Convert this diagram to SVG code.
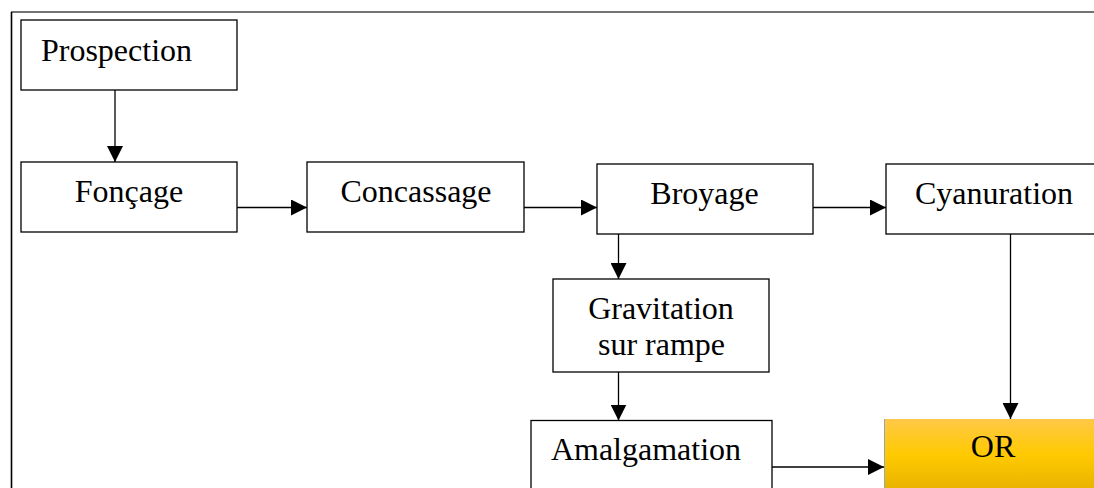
<svg xmlns="http://www.w3.org/2000/svg" width="1094" height="488" viewBox="0 0 1094 488">
<style>
.box{fill:#fff;stroke:#000;stroke-width:1.3}
.lbl{font-family:"Liberation Serif","Times New Roman",serif;font-size:32px;fill:#000;text-anchor:middle}
.con{stroke:#000;stroke-width:1.3;fill:none;marker-end:url(#ah)}
</style>
<defs>
<marker id="ah" viewBox="0 0 16 16" refX="16" refY="8" markerWidth="16" markerHeight="16" markerUnits="userSpaceOnUse" orient="auto">
<path d="M0,0 L16,8 L0,16 Z" fill="#000"/>
</marker>
<linearGradient id="gold" x1="0" y1="0" x2="0" y2="1">
<stop offset="0" stop-color="#FFC847"/>
<stop offset="0.45" stop-color="#FFCA00"/>
<stop offset="1" stop-color="#E2AC00"/>
</linearGradient>
</defs>
<rect width="1094" height="488" fill="#fff"/>
<g id="frame">
<line x1="11" y1="12" x2="1094" y2="12" stroke="#444" stroke-width="1.3"/>
<line x1="11.5" y1="12" x2="11.5" y2="488" stroke="#000" stroke-width="1.6"/>
</g>
<g id="connectors">
<line class="con" x1="115" y1="90" x2="115" y2="162"/>
<line class="con" x1="237" y1="207.5" x2="307" y2="207.5"/>
<line class="con" x1="524" y1="207.5" x2="597" y2="207.5"/>
<line class="con" x1="813" y1="207.5" x2="886" y2="207.5"/>
<line class="con" x1="618.5" y1="234" x2="618.5" y2="279"/>
<line class="con" x1="618.5" y1="372" x2="618.5" y2="420.5"/>
<line class="con" x1="1010.5" y1="234" x2="1010.5" y2="419"/>
<line class="con" x1="772" y1="467" x2="884" y2="467"/>
</g>
<g id="prospection">
<rect class="box" x="21" y="20" width="216" height="70"/>
<text class="lbl" x="116.5" y="60.5">Prospection</text>
</g>
<g id="foncage">
<rect class="box" x="21" y="162" width="216" height="70"/>
<text class="lbl" x="129" y="202">Fonçage</text>
</g>
<g id="concassage">
<rect class="box" x="307" y="162" width="217" height="70"/>
<text class="lbl" x="416" y="202">Concassage</text>
</g>
<g id="broyage">
<rect class="box" x="597" y="164" width="216" height="70"/>
<text class="lbl" x="704.5" y="203.5">Broyage</text>
</g>
<g id="cyanuration">
<rect class="box" x="886" y="164" width="220" height="70"/>
<text class="lbl" x="994" y="204">Cyanuration</text>
</g>
<g id="gravitation">
<rect class="box" x="553" y="279" width="216" height="93"/>
<text class="lbl" x="661" y="319">Gravitation</text>
<text class="lbl" x="661.5" y="355">sur rampe</text>
</g>
<g id="amalgamation">
<rect class="box" x="531" y="420.5" width="241" height="80"/>
<text class="lbl" x="646" y="460">Amalgamation</text>
</g>
<g id="or">
<rect x="884" y="419" width="215" height="80" fill="url(#gold)"/>
<line x1="884.5" y1="419" x2="884.5" y2="488" stroke="#9aa3b8" stroke-width="1"/>
<text class="lbl" x="993" y="457">OR</text>
</g>
</svg>
